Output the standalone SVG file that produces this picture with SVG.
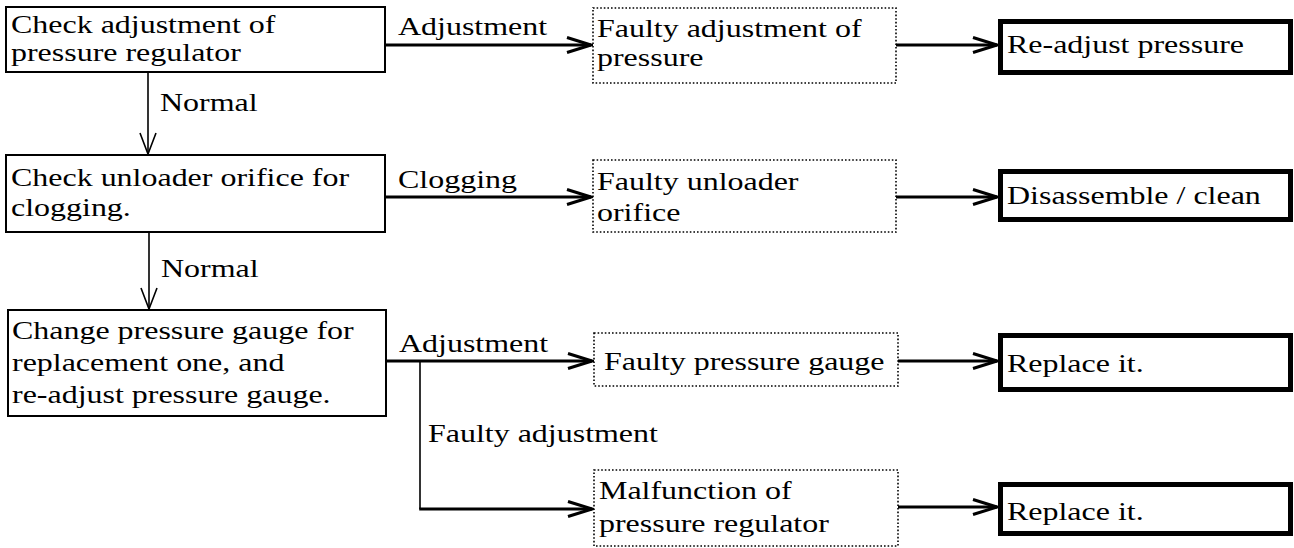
<svg xmlns="http://www.w3.org/2000/svg" width="1294" height="548" viewBox="0 0 1294 548">
<defs>
<style>
.t{font-family:"Liberation Serif","Times New Roman",serif;font-size:26px;fill:#000}
.box{fill:#fff;stroke:#000;stroke-width:2}
.dot{fill:#fff;stroke:#000;stroke-width:1.6;stroke-dasharray:1.6 2}
.thick{fill:#fff;stroke:#000;stroke-width:5}
.h{fill:none;stroke:#000;stroke-width:3}
.v{fill:none;stroke:#000;stroke-width:1.6}
</style>
<marker id="ah" markerUnits="userSpaceOnUse" viewBox="0 0 28 18" refX="26" refY="9" markerWidth="28" markerHeight="18" orient="auto">
<path d="M2,1.5 L26,9 L2,16.5" fill="none" stroke="#000" stroke-width="3"/>
</marker>
<marker id="av" markerUnits="userSpaceOnUse" viewBox="0 0 24 18" refX="22" refY="9" markerWidth="24" markerHeight="18" orient="auto">
<path d="M1,1 L22,9 L1,17" fill="none" stroke="#000" stroke-width="1.6"/>
</marker>
</defs>
<rect width="1294" height="548" fill="#fff"/>

<g id="connectors">
<line class="h" x1="385" y1="45" x2="591" y2="45" marker-end="url(#ah)"/>
<line class="h" x1="896" y1="45" x2="997" y2="45" marker-end="url(#ah)"/>
<line class="v" x1="148" y1="72" x2="148" y2="154" marker-end="url(#av)"/>
<line class="h" x1="385" y1="197" x2="591" y2="197" marker-end="url(#ah)"/>
<line class="h" x1="896" y1="197" x2="997" y2="197" marker-end="url(#ah)"/>
<line class="v" x1="149" y1="232" x2="149" y2="309" marker-end="url(#av)"/>
<line class="h" x1="386" y1="361" x2="592" y2="361" marker-end="url(#ah)"/>
<line class="h" x1="898" y1="361" x2="997" y2="361" marker-end="url(#ah)"/>
<line class="v" x1="420" y1="361" x2="420" y2="509"/>
<line class="h" x1="419.2" y1="509" x2="592" y2="509" marker-end="url(#ah)"/>
<line class="h" x1="898" y1="507" x2="997" y2="507" marker-end="url(#ah)"/>
<text class="t" transform="translate(398,35) scale(1.23,1)">Adjustment</text>
<text class="t" transform="translate(160,111) scale(1.23,1)">Normal</text>
<text class="t" transform="translate(398,188) scale(1.23,1)">Clogging</text>
<text class="t" transform="translate(161,277) scale(1.23,1)">Normal</text>
<text class="t" transform="translate(399,352) scale(1.23,1)">Adjustment</text>
<text class="t" transform="translate(428,442) scale(1.23,1)">Faulty adjustment</text>
</g>

<g id="n1">
<rect class="box" x="6" y="7" width="379" height="65"/>
<text class="t" transform="translate(11,33) scale(1.23,1)">Check adjustment of</text>
<text class="t" transform="translate(11,61) scale(1.23,1)">pressure regulator</text>
</g>
<g id="n2">
<rect class="dot" x="593" y="8" width="303" height="75"/>
<text class="t" transform="translate(597,37) scale(1.23,1)">Faulty adjustment of</text>
<text class="t" transform="translate(597,66) scale(1.23,1)">pressure</text>
</g>
<g id="n3">
<rect class="thick" x="1000.5" y="21.5" width="290" height="51"/>
<text class="t" transform="translate(1007,53) scale(1.23,1)">Re-adjust pressure</text>
</g>

<g id="n4">
<rect class="box" x="6" y="155" width="379" height="77"/>
<text class="t" transform="translate(11,186) scale(1.23,1)">Check unloader orifice for</text>
<text class="t" transform="translate(11,216) scale(1.23,1)">clogging.</text>
</g>
<g id="n5">
<rect class="dot" x="593" y="160" width="303" height="72"/>
<text class="t" transform="translate(597,190) scale(1.23,1)">Faulty unloader</text>
<text class="t" transform="translate(597,221) scale(1.23,1)">orifice</text>
</g>
<g id="n6">
<rect class="thick" x="1000.5" y="171.5" width="290" height="48"/>
<text class="t" transform="translate(1007,204) scale(1.23,1)">Disassemble / clean</text>
</g>

<g id="n7">
<rect class="box" x="8" y="310" width="378" height="106"/>
<text class="t" transform="translate(12,339) scale(1.23,1)">Change pressure gauge for</text>
<text class="t" transform="translate(12,371) scale(1.23,1)">replacement one, and</text>
<text class="t" transform="translate(12,403) scale(1.23,1)">re-adjust pressure gauge.</text>
</g>
<g id="n8">
<rect class="dot" x="594" y="333" width="304" height="53"/>
<text class="t" transform="translate(604,370) scale(1.23,1)">Faulty pressure gauge</text>
</g>
<g id="n9">
<rect class="thick" x="1000.5" y="335.5" width="290" height="54"/>
<text class="t" transform="translate(1007,372) scale(1.23,1)">Replace it.</text>
</g>

<g id="n10">
<rect class="dot" x="594" y="470" width="304" height="76"/>
<text class="t" transform="translate(599,499) scale(1.23,1)">Malfunction of</text>
<text class="t" transform="translate(599,532) scale(1.23,1)">pressure regulator</text>
</g>
<g id="n11">
<rect class="thick" x="1000.5" y="484.5" width="290" height="49"/>
<text class="t" transform="translate(1007,520) scale(1.23,1)">Replace it.</text>
</g>
</svg>
